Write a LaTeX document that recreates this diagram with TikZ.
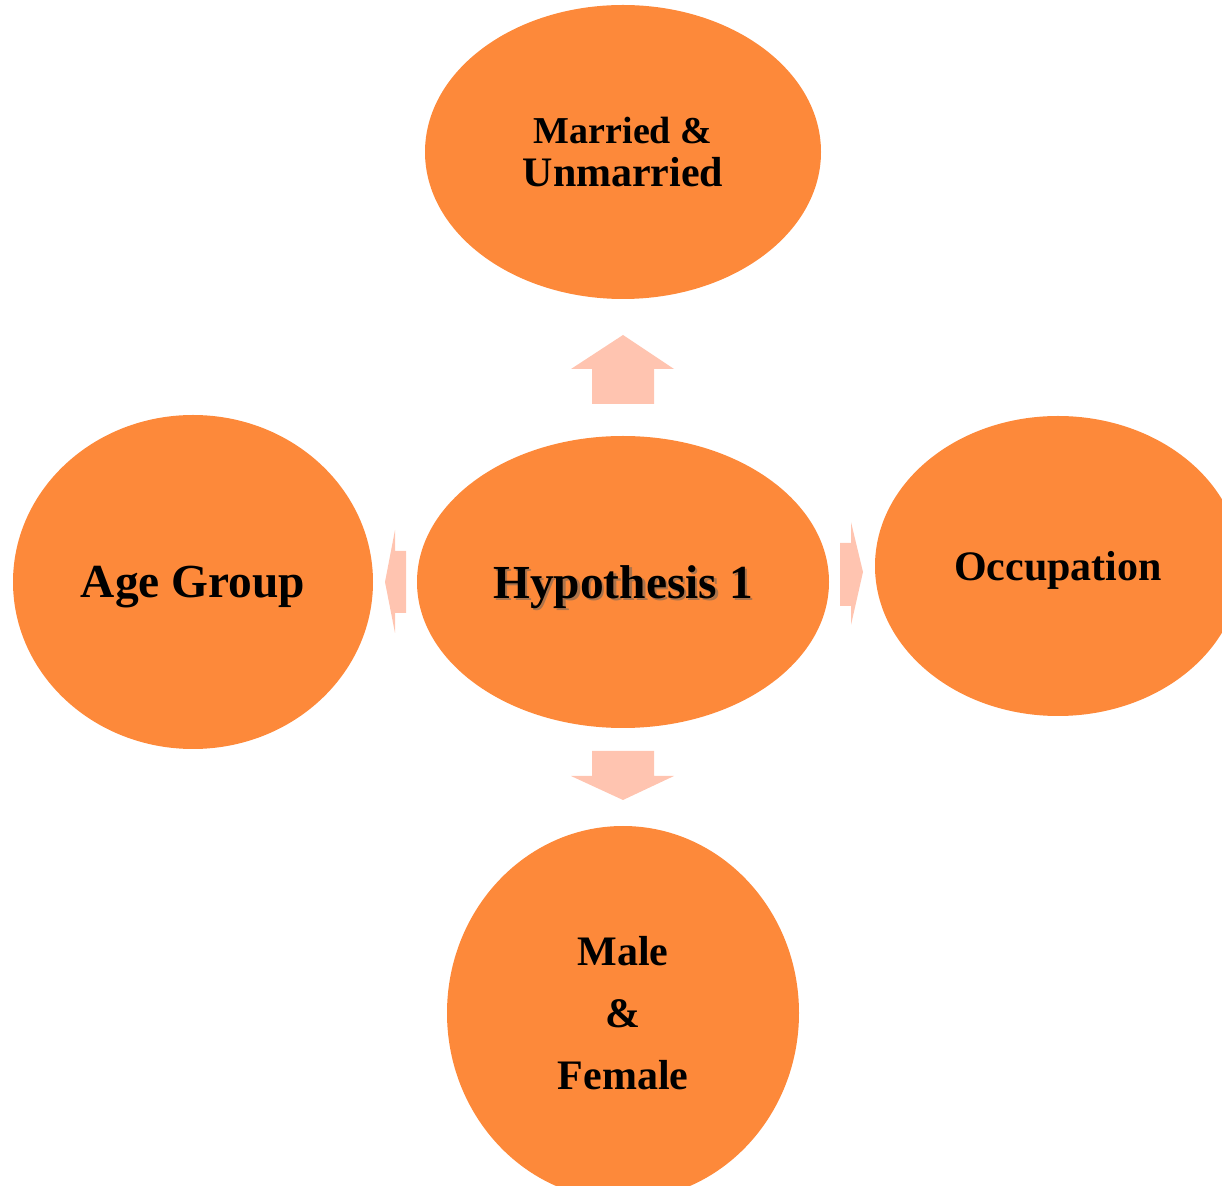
\documentclass[tikz,border=0pt]{standalone}
\usepackage{fontspec}
\setmainfont{Liberation Serif}
\usepackage{xcolor}
\usetikzlibrary{positioning,shapes.geometric}

\definecolor{ovalorange}{RGB}{253,137,58}
\definecolor{arrowpeach}{RGB}{255,196,176}
\definecolor{shadowbrown}{RGB}{150,80,30}

% text with a soft drop shadow
\newcommand{\shadowtext}[1]{%
  \makebox[0pt][l]{\hspace{1.2pt}\raisebox{-1.2pt}{\textcolor{shadowbrown!80}{#1}}}#1}

\begin{document}
\begin{tikzpicture}
  [
    x=0.5pt, y=-0.5pt,
    oval/.style  = {ellipse, fill = ovalorange, draw = none, inner sep = 0pt,
                    align = center, font = \bfseries},
    block/.style = {fill = arrowpeach, draw = none},
  ]

  % picture frame
  \clip (0,0) rectangle (1222,1186);

  % the hypothesis in the middle
  \node (hyp) at (623,582) [oval, minimum width = 206pt, minimum height = 146pt,
    text depth = 0pt, font = \bfseries\fontsize{23.7}{28}\selectfont]
    {\shadowtext{Hypothesis 1}};

  % the four variables round it
  \node (marital) at (623,152) [oval, minimum width = 198pt, minimum height = 147pt,
    font = \bfseries\fontsize{21}{21.5}\selectfont]
    {{\fontsize{19}{21.5}\selectfont Married \&}\\Unmarried};
  \node (age) at (193,582) [oval, minimum width = 180pt, minimum height = 167pt,
    text depth = 0pt, font = \bfseries\fontsize{23.7}{28}\selectfont] {Age Group};
  \node (job) at (1058,566) [oval, minimum width = 183pt, minimum height = 150pt,
    text depth = 0pt, font = \bfseries\fontsize{21}{25}\selectfont] {Occupation};
  \node (gender) at (623,1013) [oval, minimum width = 176pt, minimum height = 187pt,
    font = \bfseries\fontsize{21}{31}\selectfont] {Male\\\&\\Female};

  % block arrows pointing out of the middle
  \fill[block] (592,404) -- (592,369) -- (571,369) -- (623,335)
    -- (674,369) -- (654,369) -- (654,404) -- cycle;
  \fill[block] (592,751) -- (654,751) -- (654,776) -- (674,776)
    -- (623,800) -- (571,776) -- (592,776) -- cycle;
  \fill[block] (406,551) -- (395,551) -- (395,530) -- (385,582)
    -- (395,633) -- (395,613) -- (406,613) -- cycle;
  \fill[block] (840,543) -- (851,543) -- (851,522) -- (863,572)
    -- (851,625) -- (851,606) -- (840,606) -- cycle;
\end{tikzpicture}
\end{document}
